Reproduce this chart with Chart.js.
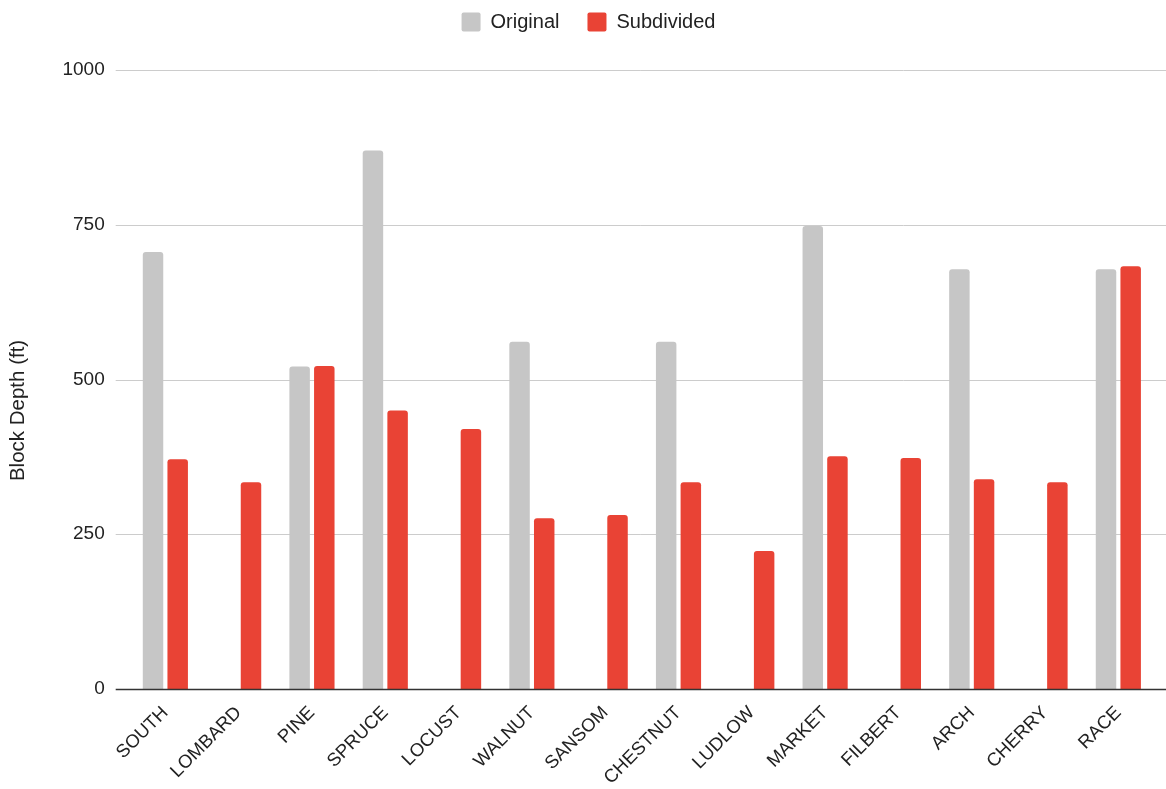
<!DOCTYPE html>
<html>
<head>
<meta charset="utf-8">
<script src="https://cdn.jsdelivr.net/npm/chart.js@4.4.1/dist/chart.umd.min.js"></script>
<style>
  html, body { margin: 0; padding: 0; background: #ffffff; }
  #wrap { width: 1166px; height: 789px; position: relative; }
</style>
</head>
<body>
<div id="wrap"><canvas id="chart" width="1166" height="789"></canvas></div>
<script>
// Streets, west-to-east order
const streets = ['SOUTH', 'LOMBARD', 'PINE', 'SPRUCE', 'LOCUST', 'WALNUT', 'SANSOM',
  'CHESTNUT', 'LUDLOW', 'MARKET', 'FILBERT', 'ARCH', 'CHERRY', 'RACE'];

// Block depth in feet; null where the street did not exist in the original plan
const originalDepth = [706, null, 521, 870, null, 561, null, 561, null, 748, null, 678, null, 678];
const subdividedDepth = [371, 334, 522, 450, 420, 276, 281, 334, 223, 376, 373, 339, 334, 683];

const yTicks = [0, 250, 500, 750, 1000];
const yTitle = 'Block Depth (ft)';

const FONT = '"Liberation Sans", Arial, Helvetica, sans-serif';
const TEXT = '#222222';

// Horizontal rules spanning a little beyond the bar area, drawn from the y scale
const gridRules = {
  id: 'gridRules',
  beforeDatasetsDraw(chart) {
    const { ctx, chartArea, scales: { y } } = chart;
    ctx.save();
    ctx.lineWidth = 1;
    ctx.strokeStyle = '#cccccc';
    y.ticks.forEach(t => {
      if (t.value === 0) return;
      const py = Math.round(y.getPixelForValue(t.value)) + 0.5;
      ctx.beginPath();
      ctx.moveTo(chartArea.left - 13, py);
      ctx.lineTo(chartArea.right + 11, py);
      ctx.stroke();
    });
    ctx.restore();
  },
  afterDatasetsDraw(chart) {
    const { ctx, chartArea, scales: { y } } = chart;
    const py = Math.round(y.getPixelForValue(0)) + 0.5;
    ctx.save();
    ctx.lineWidth = 1.3;
    ctx.strokeStyle = '#333333';
    ctx.beginPath();
    ctx.moveTo(chartArea.left - 13, py);
    ctx.lineTo(chartArea.right + 11, py);
    ctx.stroke();
    ctx.restore();
  }
};

// Vertical axis title, set a little below the middle of the value range
const axisTitle = {
  id: 'axisTitle',
  afterDraw(chart) {
    const { ctx, scales: { y } } = chart;
    const cy = y.getPixelForValue(450);
    ctx.save();
    ctx.translate(18, cy);
    ctx.rotate(-Math.PI / 2);
    ctx.font = '20.5px ' + FONT;
    ctx.fillStyle = TEXT;
    ctx.textAlign = 'center';
    ctx.textBaseline = 'middle';
    ctx.fillText(yTitle, 0, 0);
    ctx.restore();
  }
};

// Extra room under the legend
const legendGap = {
  id: 'legendGap',
  beforeInit(chart) {
    const fit = chart.legend.fit;
    chart.legend.fit = function () {
      fit.call(this);
      this.height += 28;
    };
  }
};

new Chart(document.getElementById('chart'), {
  type: 'bar',
  data: {
    labels: streets,
    datasets: [
      {
        label: 'Original',
        data: originalDepth,
        backgroundColor: '#c6c6c6',
        borderRadius: 3,
        barPercentage: 0.83,
        categoryPercentage: 0.673
      },
      {
        label: 'Subdivided',
        data: subdividedDepth,
        backgroundColor: '#e94335',
        borderRadius: 3,
        barPercentage: 0.83,
        categoryPercentage: 0.673
      }
    ]
  },
  options: {
    responsive: false,
    animation: false,
    layout: { padding: { left: 22, right: 11, top: -16, bottom: 0 } },
    plugins: {
      legend: {
        position: 'top',
        labels: {
          color: TEXT,
          font: { family: FONT, size: 20 },
          boxWidth: 19,
          boxHeight: 19,
          useBorderRadius: true,
          borderRadius: 2,
          padding: 28
        }
      },
      tooltip: { enabled: false }
    },
    scales: {
      x: {
        grid: { display: false, drawTicks: false },
        border: { display: false },
        ticks: {
          color: TEXT,
          font: { family: FONT, size: 18.5 },
          maxRotation: 45,
          minRotation: 45,
          autoSkip: false,
          padding: 13
        },
        afterFit(scale) { scale.height = 100; }
      },
      y: {
        min: 0,
        max: 1000,
        afterBuildTicks(scale) { scale.ticks = yTicks.map(v => ({ value: v })); },
        grid: { display: false, drawTicks: false },
        border: { display: false },
        ticks: {
          color: TEXT,
          font: { family: FONT, size: 19 },
          padding: 24,
          callback: v => String(v)
        },
        afterFit(scale) { scale.width = 106.7; }
      }
    }
  },
  plugins: [gridRules, legendGap, axisTitle]
});
</script>
</body>
</html>
